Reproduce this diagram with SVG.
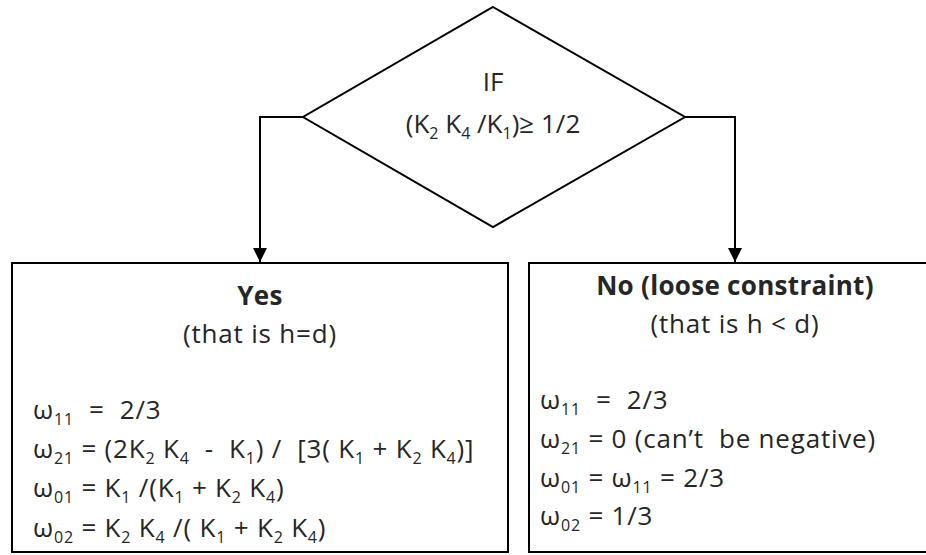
<svg xmlns="http://www.w3.org/2000/svg" width="926" height="555" viewBox="0 0 926 555">
<style>
text{font-family:"Open Sans","Noto Sans","Liberation Sans",sans-serif;font-size:26px;letter-spacing:0.8px;fill:#262626;white-space:pre}
.c{text-anchor:middle}
.b{font-weight:bold;letter-spacing:0.3px}
.n{letter-spacing:0}
.s{font-size:16px}
.box{fill:#fff;stroke:#000;stroke-width:2}
.ln{fill:none;stroke:#000;stroke-width:2}
</style>
<defs>
<marker id="ah" viewBox="0 0 14 14" refX="14" refY="7" markerWidth="14" markerHeight="14" markerUnits="userSpaceOnUse" orient="auto">
<path d="M0,0 L14,7 L0,14 Z" fill="#000"/>
</marker>
</defs>
<g id="connectors">
<path class="ln" d="M303,117 H260 V262" marker-end="url(#ah)"/>
<path class="ln" d="M685,117 H735 V262" marker-end="url(#ah)"/>
</g>
<g id="decision">
<polygon class="box" points="493,7 685,117 493,227 303,117"/>
<text class="c n" x="493" y="91">IF</text>
<text class="c n" x="493" y="133">(K<tspan class="s" dy="6">2</tspan><tspan dy="-6"> K</tspan><tspan class="s" dy="6">4</tspan><tspan dy="-6"> /K</tspan><tspan class="s" dy="6">1</tspan><tspan dy="-6">)≥ 1/2</tspan></text>
</g>
<g id="yes">
<rect class="box" x="12" y="263" width="496" height="289"/>
<text class="c b" x="260" y="305">Yes</text>
<text class="c" x="260" y="343">(that is h=d)</text>
<text x="33" y="419">ω<tspan class="s" dy="6">11</tspan><tspan dy="-6">  =  2/3</tspan></text>
<text x="33" y="458">ω<tspan class="s" dy="6">21</tspan><tspan dy="-6"> = (2K</tspan><tspan class="s" dy="6">2</tspan><tspan dy="-6"> K</tspan><tspan class="s" dy="6">4</tspan><tspan dy="-6">  -  K</tspan><tspan class="s" dy="6">1</tspan><tspan dy="-6">) /  [3( K</tspan><tspan class="s" dy="6">1</tspan><tspan dy="-6"> + K</tspan><tspan class="s" dy="6">2</tspan><tspan dy="-6"> K</tspan><tspan class="s" dy="6">4</tspan><tspan dy="-6">)]</tspan></text>
<text x="33" y="497">ω<tspan class="s" dy="6">01</tspan><tspan dy="-6"> = K</tspan><tspan class="s" dy="6">1</tspan><tspan dy="-6"> /(K</tspan><tspan class="s" dy="6">1</tspan><tspan dy="-6"> + K</tspan><tspan class="s" dy="6">2</tspan><tspan dy="-6"> K</tspan><tspan class="s" dy="6">4</tspan><tspan dy="-6">)</tspan></text>
<text x="33" y="537">ω<tspan class="s" dy="6">02</tspan><tspan dy="-6"> = K</tspan><tspan class="s" dy="6">2</tspan><tspan dy="-6"> K</tspan><tspan class="s" dy="6">4</tspan><tspan dy="-6"> /( K</tspan><tspan class="s" dy="6">1</tspan><tspan dy="-6"> + K</tspan><tspan class="s" dy="6">2</tspan><tspan dy="-6"> K</tspan><tspan class="s" dy="6">4</tspan><tspan dy="-6">)</tspan></text>
</g>
<g id="no">
<rect class="box" x="529" y="263" width="410" height="289"/>
<text class="c b" x="735" y="295">No (loose constraint)</text>
<text class="c" x="735" y="333">(that is h &lt; d)</text>
<text x="540" y="409">ω<tspan class="s" dy="6">11</tspan><tspan dy="-6">  =  2/3</tspan></text>
<text x="540" y="448">ω<tspan class="s" dy="6">21</tspan><tspan dy="-6"> = 0 (can’t  be negative)</tspan></text>
<text x="540" y="487">ω<tspan class="s" dy="6">01</tspan><tspan dy="-6"> = ω</tspan><tspan class="s" dy="6">11</tspan><tspan dy="-6"> = 2/3</tspan></text>
<text x="540" y="525">ω<tspan class="s" dy="6">02</tspan><tspan dy="-6"> = 1/3</tspan></text>
</g>
</svg>
